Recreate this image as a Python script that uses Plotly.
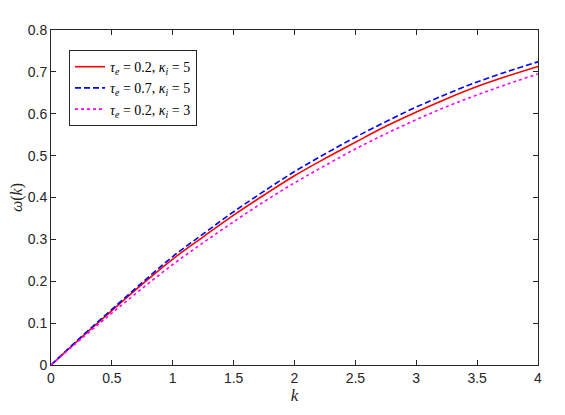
import plotly.graph_objects as go

# wave number k and omega(k)
k = [0, 0.25, 0.5, 0.75, 1.0, 1.25, 1.5, 1.75, 2.0, 2.25, 2.5, 2.75, 3.0, 3.25, 3.5, 3.75, 4.0]
w_red = [0, 0.066, 0.130, 0.193, 0.253, 0.306, 0.358, 0.406, 0.452, 0.493, 0.532, 0.570, 0.604, 0.636, 0.665, 0.690, 0.713]
w_blue = [0, 0.068, 0.133, 0.197, 0.259, 0.313, 0.366, 0.415, 0.462, 0.504, 0.544, 0.581, 0.616, 0.647, 0.676, 0.701, 0.724]
w_mag = [0, 0.063, 0.124, 0.183, 0.240, 0.292, 0.342, 0.390, 0.435, 0.476, 0.516, 0.552, 0.586, 0.617, 0.645, 0.671, 0.695]

names = ["<i>τ<sub>e</sub></i> = 0.2, <i>κ<sub>i</sub></i> = 5",
         "<i>τ<sub>e</sub></i> = 0.7, <i>κ<sub>i</sub></i> = 5",
         "<i>τ<sub>e</sub></i> = 0.2, <i>κ<sub>i</sub></i> = 3"]

fig = go.Figure()
fig.add_trace(go.Scatter(x=k, y=w_red, mode="lines", name=names[0],
                         line=dict(color="#ff0000", width=1.6, shape="spline")))
fig.add_trace(go.Scatter(x=k, y=w_blue, mode="lines", name=names[1],
                         line=dict(color="#0000ff", width=1.6, dash="6px,3px", shape="spline")))
fig.add_trace(go.Scatter(x=k, y=w_mag, mode="lines", name=names[2],
                         line=dict(color="#ff00ff", width=1.6, dash="dot", shape="spline")))

axis_common = dict(showgrid=False, zeroline=False, showline=True, linecolor="#262626",
                   linewidth=1, mirror="ticks", ticks="inside", ticklen=5, automargin=False,
                   tickcolor="#262626", tickfont=dict(family="Liberation Sans", size=14, color="#262626"))

fig.update_xaxes(range=[0, 4], tickvals=[0, 0.5, 1, 1.5, 2, 2.5, 3, 3.5, 4],
                 ticktext=["0", "0.5", "1", "1.5", "2", "2.5", "3", "3.5", "4"],
                 title=dict(text="<i>k</i>", font=dict(family="Liberation Serif", size=17, color="#262626"),
                            standoff=2),
                 **axis_common)
fig.update_yaxes(range=[0, 0.8], tickvals=[0, 0.1, 0.2, 0.3, 0.4, 0.5, 0.6, 0.7, 0.8],
                 ticktext=["0", "0.1", "0.2", "0.3", "0.4", "0.5", "0.6", "0.7", "0.8"],
                 title=dict(text="<i>ω</i>(<i>k</i>)", font=dict(family="Liberation Serif", size=16, color="#262626"),
                            standoff=6),
                 **axis_common)

# page body adds an 8px offset, margins compensate for it
fig.update_layout(
    width=565, height=415,
    margin=dict(l=43, r=35, t=22, b=58),
    plot_bgcolor="white", paper_bgcolor="white",
    legend=dict(x=0.037, y=0.94, xanchor="left", yanchor="top",
                bordercolor="#262626", borderwidth=1, bgcolor="white",
                font=dict(family="Liberation Serif", size=14, color="black"),
                tracegroupgap=0, itemwidth=30),
)

fig.write_html("out.html")
